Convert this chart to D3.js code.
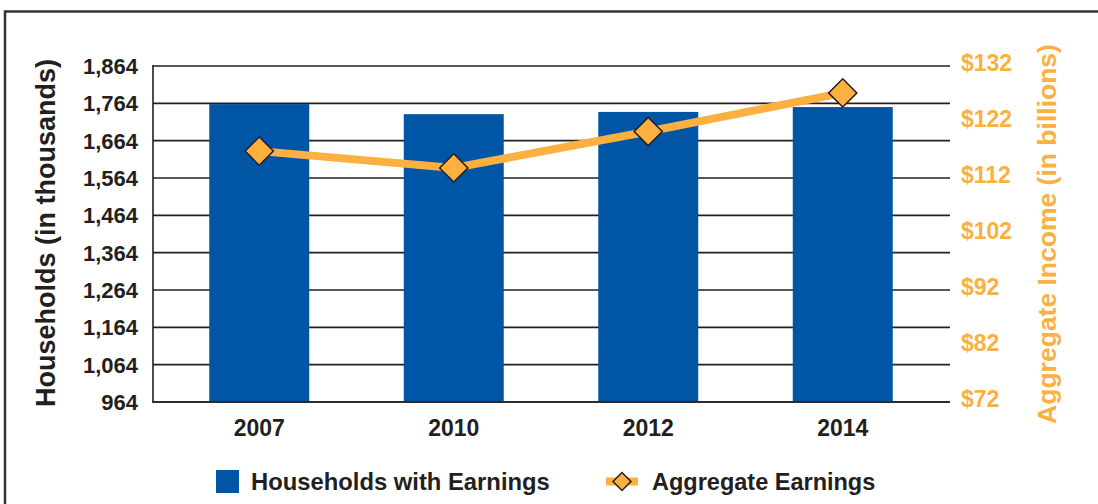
<!DOCTYPE html>
<html><head><meta charset="utf-8">
<script src="https://cdn.jsdelivr.net/npm/d3@7"></script>
<style>body{margin:0;background:#fff}svg{display:block;font-family:"Liberation Sans",Arial,sans-serif;font-weight:bold}</style>
</head><body>
<script>
const years = ["2007","2010","2012","2014"];
const households = [1762, 1735, 1741, 1754];
const earnings = [116.8, 113.8, 120.3, 127.2];
const leftTicks = [964,1064,1164,1264,1364,1464,1564,1664,1764,1864];
const rightTicks = [72,82,92,102,112,122,132];

(function(){
const W=1098,H=504;
const svg=d3.select("body").append("svg").attr("width",W).attr("height",H);
const blue="#0055A5", orange="#FBB040", dark="#231F20";

svg.append("rect").attr("x",5).attr("y",11.5).attr("width",1200).attr("height",600)
  .attr("fill","none").attr("stroke","#333").attr("stroke-width",2.5);

const pTop=66,pBottom=402,pLeft=153,pRight=950;
const yL=d3.scaleLinear().domain([964,1864]).range([pBottom,pTop]);
const yR=d3.scaleLinear().domain([72,132]).range([pBottom,pTop]);
const x=d3.scaleBand().domain(years).range([162,940]).paddingInner(0.486).paddingOuter(0.243);

svg.append("g").selectAll("line").data(leftTicks).join("line")
  .attr("x1",pLeft).attr("x2",pRight).attr("y1",d=>yL(d)).attr("y2",d=>yL(d))
  .attr("stroke",dark).attr("stroke-width",1.6);
svg.append("line").attr("x1",pLeft).attr("x2",pLeft).attr("y1",pTop-1).attr("y2",pBottom+1)
  .attr("stroke",dark).attr("stroke-width",1.6);

svg.append("g").selectAll("text").data(leftTicks).join("text")
  .attr("x",138).attr("y",d=>yL(d)).attr("dy","0.36em").attr("text-anchor","end")
  .attr("font-size",22).attr("fill",dark).text(d3.format(","));
svg.append("g").selectAll("text").data(rightTicks).join("text")
  .attr("x",961).attr("y",d=>yR(d)-3).attr("dy","0.36em").attr("text-anchor","start")
  .attr("font-size",23).attr("fill",orange).text(d=>"$"+d);

svg.append("g").selectAll("rect").data(years).join("rect")
  .attr("x",d=>x(d)).attr("width",x.bandwidth())
  .attr("y",(d,i)=>yL(households[i])).attr("height",(d,i)=>pBottom-yL(households[i]))
  .attr("fill",blue);
svg.append("line").attr("x1",pLeft).attr("x2",pRight).attr("y1",pBottom).attr("y2",pBottom)
  .attr("stroke",dark).attr("stroke-width",1.6);

const cx=d=>x(d)+x.bandwidth()/2;
svg.append("path").datum(years).attr("fill","none").attr("stroke",orange).attr("stroke-width",8)
  .attr("d",d3.line().x(cx).y((d,i)=>yR(earnings[i])));
const diamond=d3.symbol().type(d3.symbolSquare).size(400);
svg.append("g").selectAll("path").data(years).join("path")
  .attr("d",diamond)
  .attr("transform",(d,i)=>`translate(${cx(d)},${yR(earnings[i])}) rotate(45)`)
  .attr("fill",orange).attr("stroke",dark).attr("stroke-width",1.5);

svg.append("g").selectAll("text").data(years).join("text")
  .attr("x",cx).attr("y",428).attr("dy","0.36em").attr("text-anchor","middle")
  .attr("font-size",23).attr("fill",dark).text(d=>d);

svg.append("text").attr("transform","translate(45,233) rotate(-90)").attr("dy","0.36em")
  .attr("text-anchor","middle").attr("font-size",27).attr("fill",dark).text("Households (in thousands)");
svg.append("text").attr("transform","translate(1046,234) rotate(-90)").attr("dy","0.36em")
  .attr("text-anchor","middle").attr("font-size",26.5).attr("fill",orange).text("Aggregate Income (in billions)");

svg.append("rect").attr("x",216).attr("y",470).attr("width",23).attr("height",23).attr("fill",blue);
svg.append("text").attr("x",251).attr("y",481.5).attr("dy","0.36em").attr("font-size",23.8)
  .attr("fill",dark).text("Households with Earnings");
svg.append("line").attr("x1",606).attr("x2",638).attr("y1",481.5).attr("y2",481.5)
  .attr("stroke",orange).attr("stroke-width",8);
svg.append("path").attr("d",d3.symbol().type(d3.symbolSquare).size(160))
  .attr("transform","translate(622,481.5) rotate(45)")
  .attr("fill",orange).attr("stroke",dark).attr("stroke-width",1.5);
svg.append("text").attr("x",652).attr("y",481.5).attr("dy","0.36em").attr("font-size",23.5)
  .attr("fill",dark).text("Aggregate Earnings");
})();
</script>
</body></html>
